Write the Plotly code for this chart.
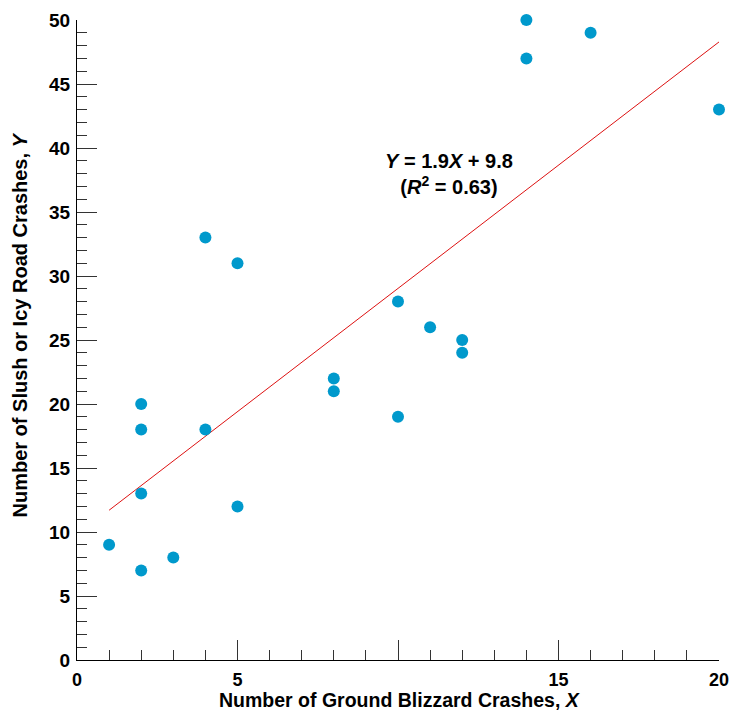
import numpy as np
import plotly.graph_objects as go

# Data
blizzard_x = [1, 2, 2, 2, 2, 3, 4, 4, 5, 5, 8, 8, 10, 10, 11, 12, 12, 14, 14, 16, 20]
slush_y = [9, 7, 13, 18, 20, 8, 18, 33, 12, 31, 22, 21, 28, 19, 26, 25, 24, 50, 47, 49, 43]
x_tick_vals = [0, 5, 10, 15, 20]
x_tick_text = ["0", "5", "", "15", "20"]
y_tick_vals = [0, 5, 10, 15, 20, 25, 30, 35, 40, 45, 50]
x_title = "Number of Ground Blizzard Crashes, <i>X</i>"
y_title = "Number of Slush or Icy Road Crashes, <i>Y</i>"

slope, intercept = np.polyfit(blizzard_x, slush_y, 1)
line_x = [min(blizzard_x), max(blizzard_x)]
line_y = [slope * v + intercept for v in line_x]

FONT = "Liberation Sans, Arial, sans-serif"
FS = 19
TFS = 20

fig = go.Figure()
fig.add_trace(go.Scatter(x=line_x, y=line_y, mode="lines",
                         line=dict(color="#dd1111", width=1), hoverinfo="skip", cliponaxis=False))
fig.add_trace(go.Scatter(x=blizzard_x, y=slush_y, mode="markers", cliponaxis=False,
                         marker=dict(color="#0099cc", size=12, line=dict(width=0))))

fig.add_annotation(x=11.6, y=38.0, xref="x", yref="y", showarrow=False,
                   text="<i>Y</i> = 1.9<i>X</i> + 9.8<br>(<i>R</i><sup>2</sup> = 0.63)",
                   font=dict(family=FONT, size=TFS, color="black", weight="bold"),
                   align="center")
# axis titles
fig.add_annotation(x=0.503, y=-0.0625, xref="paper", yref="paper", showarrow=False,
                   xanchor="center", yanchor="middle", text=x_title, borderpad=0,
                   font=dict(family=FONT, size=19.5, color="black", weight="bold"))
fig.add_annotation(x=-0.089, y=0.524, xref="paper", yref="paper", showarrow=False,
                   xanchor="center", yanchor="middle", textangle=-90, text=y_title,
                   font=dict(family=FONT, size=TFS, color="black", weight="bold"))

axis_common = dict(
    showgrid=False, zeroline=False, showline=True, linecolor="black", linewidth=1,
    ticks="inside", ticklen=20, tickcolor="#333333", tickwidth=1, automargin=False,
    minor=dict(ticks="inside", ticklen=10, dtick=1, tickcolor="#333333", tickwidth=1, showgrid=False),
)

fig.update_xaxes(range=[0, 20], tickmode="array", tickvals=x_tick_vals, ticktext=x_tick_text,
                 tickfont=dict(family=FONT, size=18, color="black", weight="bold"),
                 ticklabelstandoff=3, **axis_common)
fig.update_yaxes(range=[0, 50], tickmode="array", tickvals=y_tick_vals,
                 tickfont=dict(family=FONT, size=FS, color="black", weight="bold"),
                 ticklabelstandoff=2, **axis_common)

fig.update_layout(width=731, height=711, showlegend=False,
                  plot_bgcolor="white", paper_bgcolor="white",
                  margin=dict(l=77, r=12, t=20, b=51))

# remove the default page margin so the figure fills the window exactly
fig.write_html("out.html", config={"displayModeBar": False},
               post_script="document.body.style.margin='0';document.body.style.overflow='hidden';")
